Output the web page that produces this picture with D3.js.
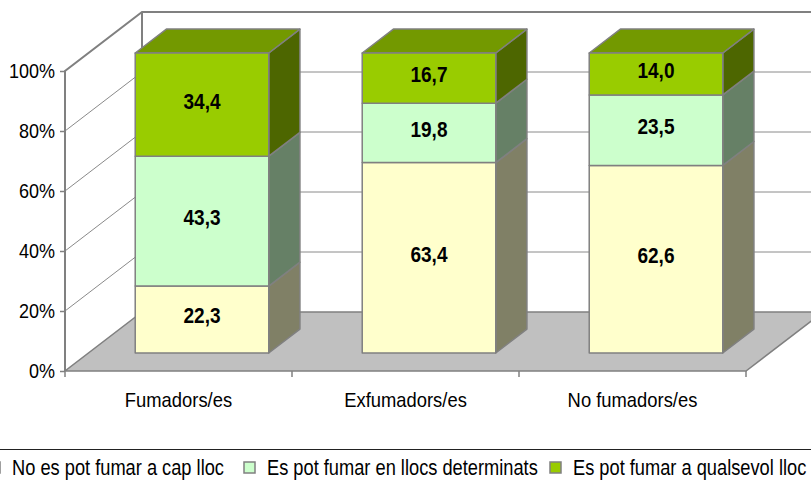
<!DOCTYPE html>
<html>
<head>
<meta charset="utf-8">
<script src="https://cdn.jsdelivr.net/npm/d3@7"></script>
<style>
  html, body { margin: 0; padding: 0; background: #fff; overflow: hidden; }
  svg { display: block; }
  text { font-family: "Liberation Sans", Arial, sans-serif; fill: #000; }
</style>
</head>
<body>
<svg id="chart" width="811" height="482"></svg>
<script>
// Smoking rules at home, by smoking status (%)
const categories = ["Fumadors/es", "Exfumadors/es", "No fumadors/es"];
const seriesNames = ["No es pot fumar a cap lloc", "Es pot fumar en llocs determinats", "Es pot fumar a qualsevol lloc"];
const capLloc = [22.3, 63.4, 62.6];
const llocsDeterminats = [43.3, 19.8, 23.5];
const qualsevolLloc = [34.4, 16.7, 14.0];
const yTicks = [0, 20, 40, 60, 80, 100];
const frontColors = ["#FFFFCC", "#CCFFCC", "#99CC00"];

const svg = d3.select("#chart");
const W = 811, H = 482;

// Narrow text: compress glyphs horizontally around each text's own x anchor
function squeeze(sel, k) {
  sel.each(function () {
    const t = d3.select(this);
    const ax = +t.attr("x") || 0;
    t.attr("transform", `translate(${ax * (1 - k)},0) scale(${k},1)`);
  });
}

// 3D projection: depth d in [0,1] shifts a point right and up
const DEPTH_X = 77, DEPTH_Y = 59;
const pt = (x, y, d) => [x + DEPTH_X * d, y - DEPTH_Y * d];
const poly = pts => "M" + pts.map(p => p.join(",")).join("L") + "Z";

const x = d3.scaleBand().domain(categories).range([65, 746]).padding(0);
const y = d3.scaleLinear().domain([0, 1]).range([371, 71]);

const rows = categories.map((c, i) => ({
  cat: c,
  [seriesNames[0]]: capLloc[i],
  [seriesNames[1]]: llocsDeterminats[i],
  [seriesNames[2]]: qualsevolLloc[i]
}));
const stacked = d3.stack().keys(seriesNames).offset(d3.stackOffsetExpand)(rows);

const gridColor = "#8a8a8a", edgeColor = "#808080";
const [xL, xR] = x.range();

// Back wall
const wall = svg.append("g");
wall.append("path")
  .attr("d", poly([pt(xL, y(1), 1), pt(xR, y(1), 1), pt(xR, y(0), 1), pt(xL, y(0), 1)]))
  .attr("fill", "#fff");
// Left wall
wall.append("path")
  .attr("d", poly([pt(xL, y(1), 0), pt(xL, y(1), 1), pt(xL, y(0), 1), pt(xL, y(0), 0)]))
  .attr("fill", "#fff");

// Gridlines on both walls
yTicks.filter(t => t > 0 && t < 100).forEach(t => {
  const v = t / 100;
  const a = pt(xL, y(v), 0), b = pt(xL, y(v), 1), c = pt(xR, y(v), 1);
  wall.append("path").attr("d", `M${a}L${b}L${c}`)
    .attr("fill", "none").attr("stroke", gridColor).attr("stroke-width", 1);
});

// Wall borders
{
  const a = pt(xL, y(0), 0), b = pt(xL, y(1), 0), c = pt(xL, y(1), 1), d = pt(xR, y(1), 1);
  wall.append("path").attr("d", `M${a}L${b}L${c}L${d}`)
    .attr("fill", "none").attr("stroke", edgeColor).attr("stroke-width", 2);
  const e = pt(xL, y(0), 1);
  wall.append("path").attr("d", `M${c}L${e}`)
    .attr("fill", "none").attr("stroke", edgeColor).attr("stroke-width", 2);
}

// Floor
svg.append("path")
  .attr("d", poly([pt(xL, y(0), 0), pt(xR, y(0), 0), pt(xR, y(0), 1), pt(xL, y(0), 1)]))
  .attr("fill", "#C0C0C0").attr("stroke", edgeColor).attr("stroke-width", 1.5);

// Y axis (front plane)
const yAxis = svg.append("g")
  .attr("transform", `translate(${xL},0)`)
  .call(d3.axisLeft(y).tickValues(yTicks.map(t => t / 100))
    .tickFormat(d => Math.round(d * 100) + "%").tickSize(5).tickPadding(5));
yAxis.select(".domain").remove();
yAxis.selectAll(".tick line").attr("stroke", edgeColor).attr("stroke-width", 1.5);
yAxis.selectAll("text").attr("font-size", 20).attr("fill", "#000").call(squeeze, 0.9);

// X axis: labels at band centres, ticks at band boundaries
const xAxis = svg.append("g")
  .attr("transform", `translate(0,${y(0)})`)
  .call(d3.axisBottom(x).tickSize(0).tickPadding(22));
xAxis.select(".domain").remove();
xAxis.selectAll("text").attr("font-size", 20).attr("fill", "#000").call(squeeze, 0.92);
const bounds = categories.map(c => x(c)).concat([xR]);
svg.append("g").selectAll("line").data(bounds).join("line")
  .attr("x1", d => d).attr("x2", d => d)
  .attr("y1", y(0)).attr("y2", y(0) + 6)
  .attr("stroke", edgeColor).attr("stroke-width", 1.5);

// Bars
const GAP = 0.7;                       // gap width relative to bar width
const barW = x.bandwidth() / (1 + GAP);
const barOff = (x.bandwidth() - barW) / 2;
const dFront = 0.305, dBack = 0.71;

const shade = (c, k) => { const r = d3.rgb(c); return d3.rgb(r.r * k, r.g * k, r.b * k).formatHex(); };

const bars = svg.append("g");
categories.forEach((c, i) => {
  const x0 = x(c) + barOff, x1 = x0 + barW;
  stacked.forEach((s, si) => {
    const [v0, v1] = s[i];
    const g = bars.append("g");
    const col = frontColors[si];
    // right side
    g.append("path")
      .attr("d", poly([pt(x1, y(v0), dFront), pt(x1, y(v1), dFront), pt(x1, y(v1), dBack), pt(x1, y(v0), dBack)]))
      .attr("fill", shade(col, 0.5)).attr("stroke", edgeColor).attr("stroke-width", 1.5).attr("stroke-linejoin", "round");
    // top (only visible on the top segment)
    if (si === stacked.length - 1) {
      g.append("path")
        .attr("d", poly([pt(x0, y(v1), dFront), pt(x1, y(v1), dFront), pt(x1, y(v1), dBack), pt(x0, y(v1), dBack)]))
        .attr("fill", shade(col, 0.75)).attr("stroke", edgeColor).attr("stroke-width", 1.5).attr("stroke-linejoin", "round");
    }
    // front
    g.append("path")
      .attr("d", poly([pt(x0, y(v1), dFront), pt(x1, y(v1), dFront), pt(x1, y(v0), dFront), pt(x0, y(v0), dFront)]))
      .attr("fill", col).attr("stroke", edgeColor).attr("stroke-width", 1.5).attr("stroke-linejoin", "round");
  });
});

// Value labels on the front faces
const valueArrays = [capLloc, llocsDeterminats, qualsevolLloc];
const fmt = v => v.toFixed(1).replace(".", ",");
const labels = svg.append("g");
categories.forEach((c, i) => {
  const xc = x(c) + barOff + barW / 2;
  stacked.forEach((s, si) => {
    const [v0, v1] = s[i];
    const p = pt(xc, (y(v0) + y(v1)) / 2, dFront);
    labels.append("text")
      .attr("x", p[0]).attr("y", p[1] - 4)
      .attr("dy", "0.36em")
      .attr("text-anchor", "middle")
      .attr("font-size", 22).attr("font-weight", "bold")
      .text(fmt(valueArrays[si][i]))
      .call(squeeze, 0.865);
  });
});

// Legend
const legend = svg.append("g");
legend.append("line")
  .attr("x1", 0).attr("x2", W).attr("y1", 449.5).attr("y2", 449.5)
  .attr("stroke", "#222").attr("stroke-width", 1);
const legendX = [-11, 244, 550];
seriesNames.forEach((name, i) => {
  const g = legend.append("g").attr("transform", `translate(${legendX[i]},462)`);
  g.append("rect").attr("width", 11).attr("height", 11)
    .attr("fill", frontColors[i]).attr("stroke", edgeColor).attr("stroke-width", 1.5);
  g.append("text").attr("x", 23).attr("y", 5.5).attr("dy", "0.36em")
    .attr("font-size", 22).text(name)
    .call(squeeze, 0.83);
});
</script>
</body>
</html>
